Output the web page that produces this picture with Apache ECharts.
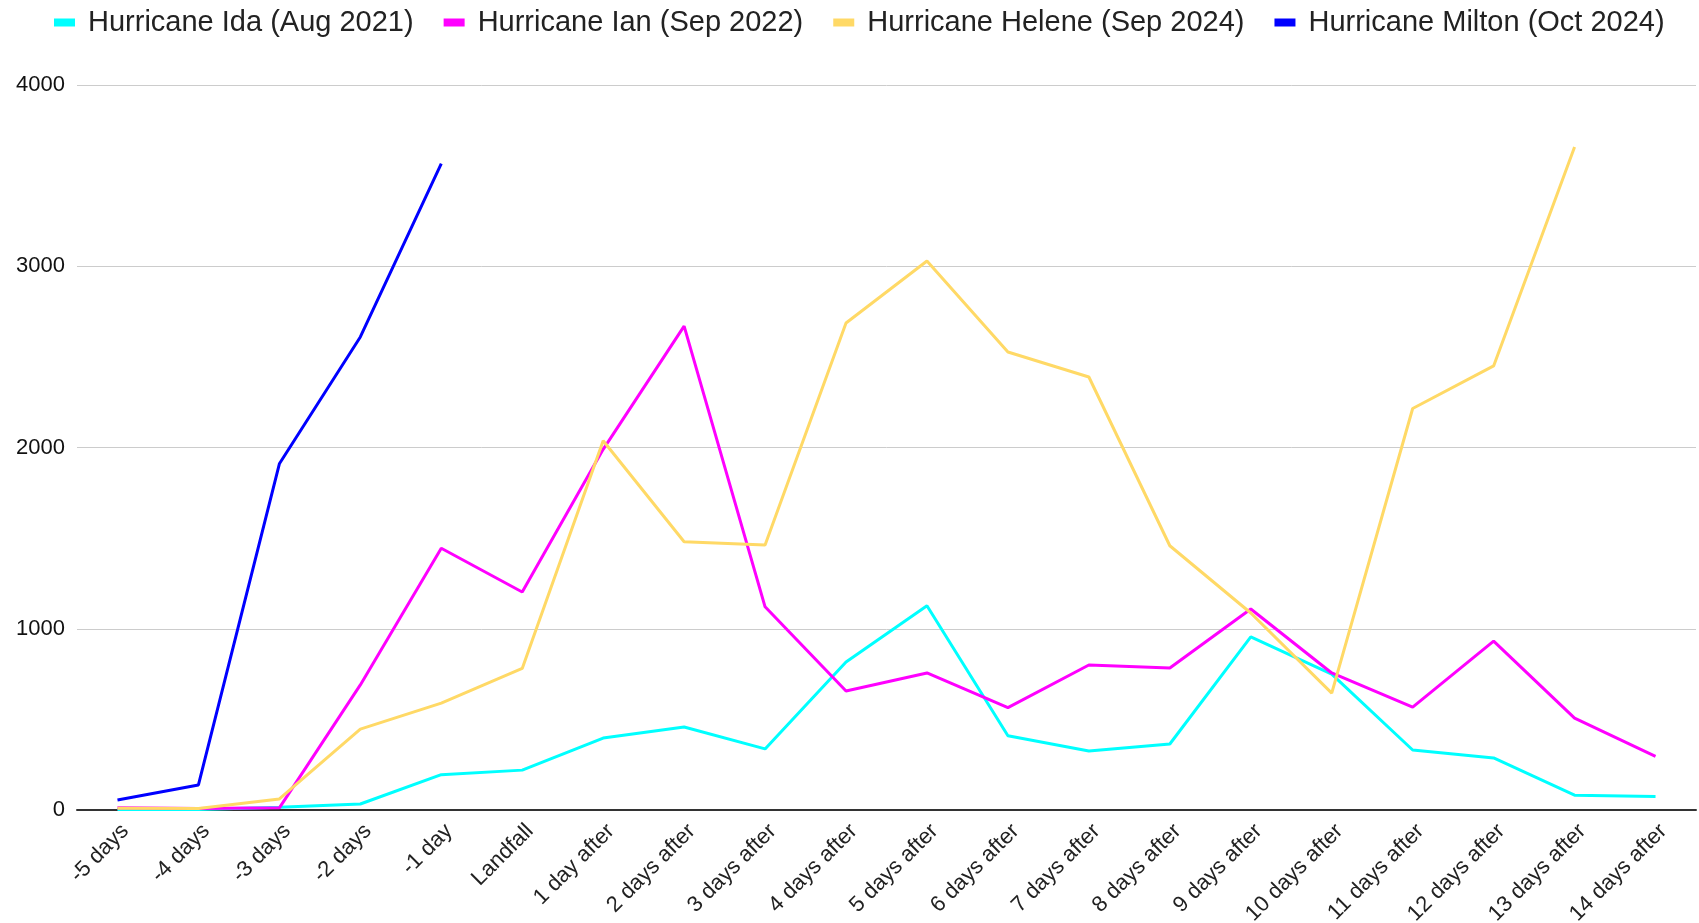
<!DOCTYPE html>
<html>
<head>
<meta charset="utf-8">
<style>
  html, body { margin: 0; padding: 0; background: #fff; }
  #chart { width: 1699px; height: 923px; }
</style>
<script src="https://cdn.jsdelivr.net/npm/echarts@6/dist/echarts.min.js"></script>
</head>
<body>
<div id="chart"></div>
<script>
// categories along the x axis
const days = [
  "-5 days", "-4 days", "-3 days", "-2 days", "-1 day", "Landfall",
  "1 day after", "2 days after", "3 days after", "4 days after", "5 days after",
  "6 days after", "7 days after", "8 days after", "9 days after", "10 days after",
  "11 days after", "12 days after", "13 days after", "14 days after"
];

// values
const ida = [3, 3, 15, 33, 195, 220, 397, 458, 337, 816, 1127, 410, 326, 364, 955, 750, 331, 287, 82, 75];
const ian = [12, 8, 12, 690, 1444, 1203, 1990, 2670, 1121, 657, 756, 565, 800, 783, 1109, 756, 568, 932, 507, 296];
const helene = [10, 8, 61, 446, 590, 781, 2037, 1480, 1462, 2687, 3029, 2527, 2389, 1458, 1087, 645, 2215, 2450, 3658, null];
const milton = [55, 138, 1910, 2610, 3566, null, null, null, null, null, null, null, null, null, null, null, null, null, null, null];

const seriesNames = [
  "Hurricane Ida (Aug 2021)",
  "Hurricane Ian (Sep 2022)",
  "Hurricane Helene (Sep 2024)",
  "Hurricane Milton (Oct 2024)"
];
const colors = ["#00ffff", "#ff00ff", "#ffd966", "#0000ff"];
const yTicks = [0, 1000, 2000, 3000, 4000];

const chart = echarts.init(document.getElementById("chart"));
const font = "'Liberation Sans', Arial, sans-serif";

function makeLine(name, data, color) {
  return {
    name: name,
    type: "line",
    data: data,
    symbol: "none",
    smooth: false,
    connectNulls: false,
    lineStyle: { width: 3, color: color },
    itemStyle: { color: color }
  };
}

const option = {
  animation: false,
  backgroundColor: "#ffffff",
  textStyle: { fontFamily: font },
  legend: {
    left: 49,
    top: 3,
    icon: "rect",
    itemWidth: 21,
    itemHeight: 8,
    itemGap: 30,
    textStyle: {
      fontFamily: font,
      fontSize: 29,
      color: "#222222",
      padding: [0, 0, 0, 8]
    },
    data: seriesNames
  },
  grid: {
    left: 77,
    right: 3,
    top: 85,
    bottom: 113,
    containLabel: false,
    outerBoundsMode: "none"
  },
  xAxis: {
    type: "category",
    data: days,
    boundaryGap: true,
    axisLine: { show: true, lineStyle: { color: "#333333", width: 2 } },
    axisTick: { show: false },
    axisLabel: {
      interval: 0,
      rotate: 45,
      margin: 10,
      verticalAlign: "top",
      fontFamily: font,
      fontSize: 22,
      color: "#222222"
    }
  },
  yAxis: {
    type: "value",
    min: yTicks[0],
    max: yTicks[yTicks.length - 1],
    interval: 1000,
    axisLine: { show: false },
    axisTick: { show: false },
    axisLabel: {
      margin: 12,
      fontFamily: font,
      fontSize: 22,
      color: "#111111",
      formatter: (v) => String(v)
    },
    splitLine: { lineStyle: { color: "#cccccc", width: 1 } }
  },
  series: [
    makeLine(seriesNames[0], ida, colors[0]),
    makeLine(seriesNames[1], ian, colors[1]),
    makeLine(seriesNames[2], helene, colors[2]),
    makeLine(seriesNames[3], milton, colors[3])
  ]
};

chart.setOption(option);
window.addEventListener("resize", () => chart.resize());
</script>
</body>
</html>
